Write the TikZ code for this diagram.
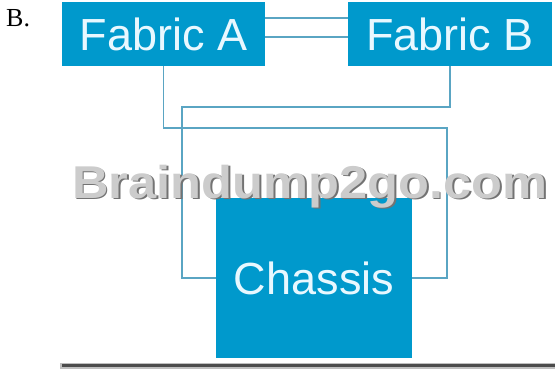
\documentclass[tikz,border=0pt]{standalone}
\usepackage{fontspec}
\setmainfont{Liberation Sans}
\newfontfamily\serifB{Liberation Serif}
\definecolor{boxblue}{HTML}{0099CC}
\definecolor{linkblue}{HTML}{5AA5C3}
\definecolor{boxtext}{HTML}{E8F8FF}
\begin{document}
\begin{tikzpicture}[x=1pt,y=-1pt,
  box/.style={fill=boxblue, text=boxtext, inner sep=0pt, font=\fontsize{45}{50}\selectfont},
  link/.style={draw=linkblue, line width=1.4pt},
  wmark/.style={anchor=base, font=\bfseries\fontsize{46}{50}\selectfont}]
\useasboundingbox (0,0) rectangle (555,369);
\node[box, minimum width=203pt, minimum height=64pt] (fa) at (163.5,34) {Fabric A};
\node[box, minimum width=204pt, minimum height=64pt] (fb) at (450,34) {Fabric B};
\node[box, minimum width=196pt, minimum height=160pt] (ch) at (314,278) {Chassis};
\draw[link] ([yshift=16pt]fa.east) -- ([yshift=16pt]fb.west);
\draw[link] ([yshift=-3pt]fa.east) -- ([yshift=-3pt]fb.west);
\draw[link] (fa.south) |- (447,128) |- (ch.east);
\draw[link] (fb.south) |- (182,107) |- (ch.west);
\node[wmark, text=black!55] (wms) at (311.5,199.5) {\scalebox{1.1}[1]{Braindump2go.com}};
\node[wmark, text=black!20] (wm) at (310,198) {\scalebox{1.1}[1]{Braindump2go.com}};
\node[font=\serifB\fontsize{26}{28}\selectfont, anchor=base west, inner sep=0pt] (lbl) at (6,27) {B.};
\fill[black!25] (60,362.5) rectangle (555,369);
\fill[black!70] (62,364) rectangle (555,367);
\end{tikzpicture}
\end{document}
